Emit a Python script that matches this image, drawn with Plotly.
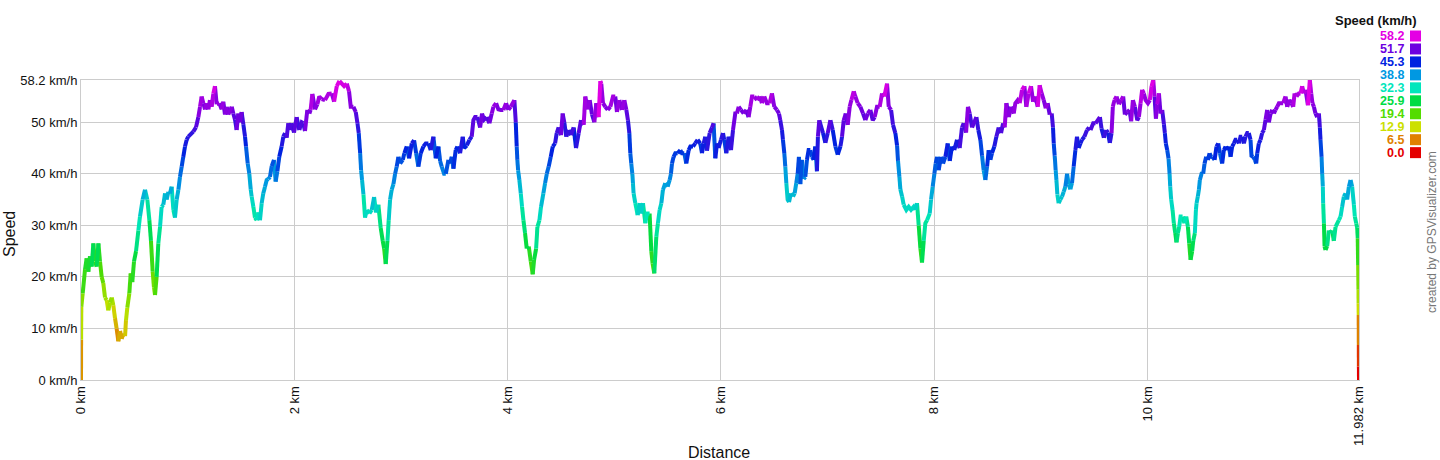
import plotly.graph_objects as go

# ---------------- data ----------------
distance_km = [
    0.000, 0.001, 0.003, 0.016, 0.038, 0.053, 0.069, 0.084, 0.100, 0.116, 0.131, 0.147, 0.163, 0.178,
    0.194, 0.209, 0.225, 0.241, 0.256, 0.272, 0.288, 0.303, 0.319, 0.334, 0.350, 0.366, 0.381, 0.397,
    0.413, 0.422, 0.434, 0.453, 0.466, 0.481, 0.497, 0.516, 0.538, 0.553, 0.578, 0.600, 0.622, 0.641,
    0.656, 0.672, 0.684, 0.694, 0.709, 0.725, 0.741, 0.756, 0.772, 0.788, 0.803, 0.819, 0.834, 0.850,
    0.866, 0.881, 0.897, 0.913, 0.928, 0.944, 0.959, 0.975, 0.991, 1.006, 1.038, 1.053, 1.078, 1.100,
    1.116, 1.131, 1.147, 1.163, 1.178, 1.194, 1.209, 1.225, 1.241, 1.256, 1.272, 1.297, 1.319, 1.334,
    1.350, 1.366, 1.381, 1.413, 1.428, 1.444, 1.459, 1.475, 1.491, 1.506, 1.522, 1.538, 1.547, 1.563,
    1.578, 1.591, 1.600, 1.616, 1.631, 1.647, 1.663, 1.678, 1.694, 1.709, 1.725, 1.741, 1.756, 1.772,
    1.788, 1.809, 1.825, 1.841, 1.859, 1.881, 1.897, 1.913, 1.928, 1.944, 1.959, 1.975, 1.997, 2.022,
    2.047, 2.069, 2.084, 2.100, 2.122, 2.141, 2.153, 2.169, 2.194, 2.216, 2.234, 2.256, 2.288,
    2.320, 2.351, 2.373, 2.398, 2.423, 2.445, 2.467, 2.492, 2.513, 2.529, 2.554, 2.576, 2.592, 2.604,
    2.617, 2.626, 2.635, 2.648, 2.663, 2.679, 2.704, 2.726, 2.748, 2.766, 2.788, 2.810, 2.829, 2.842,
    2.857, 2.873, 2.885, 2.898, 2.913, 2.929, 2.945, 2.960, 2.976, 2.992, 3.017, 3.032, 3.054, 3.076,
    3.101, 3.123, 3.142, 3.163, 3.185, 3.210, 3.232, 3.257, 3.279, 3.304, 3.326, 3.351, 3.367, 3.382,
    3.404, 3.420, 3.445, 3.460, 3.476, 3.492, 3.513, 3.529, 3.554, 3.579, 3.592, 3.617, 3.642, 3.663,
    3.679, 3.695, 3.717, 3.742, 3.760, 3.779, 3.804, 3.829, 3.851, 3.867, 3.892, 3.913, 3.935, 3.960,
    3.985, 4.007, 4.029, 4.048, 4.063, 4.076, 4.085, 4.091, 4.098, 4.110, 4.123, 4.135, 4.148, 4.163,
    4.179, 4.198, 4.217, 4.235, 4.248, 4.267, 4.279, 4.298, 4.313, 4.335, 4.351, 4.367, 4.385, 4.404,
    4.423, 4.445, 4.460,
    4.478, 4.500, 4.516, 4.531, 4.550, 4.572, 4.594, 4.619, 4.641, 4.666, 4.688, 4.713, 4.728, 4.750,
    4.769, 4.791, 4.813, 4.831, 4.853, 4.869, 4.878, 4.894, 4.916, 4.938, 4.963, 4.988, 5.009, 5.025,
    5.047, 5.072, 5.094, 5.113, 5.128, 5.141, 5.150, 5.159, 5.169, 5.175, 5.181, 5.197, 5.219, 5.238,
    5.250, 5.269, 5.291, 5.306, 5.331, 5.347, 5.359, 5.375, 5.394, 5.409, 5.425, 5.441, 5.456, 5.478,
    5.500, 5.519, 5.531, 5.541, 5.556, 5.572, 5.594, 5.619, 5.634, 5.656, 5.675, 5.697, 5.713, 5.738,
    5.759, 5.781, 5.806, 5.822, 5.838, 5.853, 5.869, 5.894, 5.916, 5.931, 5.947, 5.963, 5.978, 6.000,
    6.019, 6.031, 6.050, 6.072, 6.094, 6.113, 6.134, 6.150, 6.166, 6.188, 6.213, 6.238, 6.259, 6.275,
    6.291, 6.313, 6.338, 6.363, 6.384, 6.406, 6.431, 6.456, 6.478, 6.500, 6.525, 6.544, 6.556, 6.572,
    6.581, 6.594, 6.603, 6.613, 6.625, 6.638, 6.656, 6.675, 6.691, 6.706, 6.719, 6.731, 6.744, 6.759,
    6.775, 6.791, 6.806, 6.822, 6.838, 6.853, 6.869, 6.884, 6.900, 6.909, 6.922,
    6.957, 6.979, 7.001, 7.026, 7.048, 7.073, 7.095, 7.120, 7.135, 7.151, 7.170, 7.188, 7.207, 7.223,
    7.245, 7.260, 7.282, 7.307, 7.332, 7.354, 7.376, 7.401, 7.423, 7.441, 7.463, 7.488, 7.510, 7.532,
    7.557, 7.573, 7.595, 7.613, 7.635, 7.651, 7.660, 7.673, 7.682, 7.698, 7.713, 7.738, 7.760, 7.782,
    7.807, 7.823, 7.838, 7.854, 7.870, 7.885, 7.901, 7.916, 7.932, 7.957, 7.970, 7.985, 8.001, 8.013,
    8.026, 8.041, 8.063, 8.082, 8.104, 8.126, 8.145, 8.166, 8.188, 8.213, 8.238, 8.260, 8.276, 8.298,
    8.316, 8.332, 8.354, 8.376, 8.395, 8.413, 8.432, 8.448, 8.463, 8.479, 8.495, 8.510, 8.526, 8.541,
    8.563, 8.582, 8.604, 8.626, 8.645, 8.660, 8.676, 8.698, 8.720, 8.745, 8.760, 8.782, 8.801, 8.823,
    8.845, 8.863, 8.885, 8.907, 8.926, 8.948, 8.970, 8.988, 9.007, 9.026, 9.045, 9.063, 9.082, 9.101,
    9.113, 9.120, 9.129, 9.138, 9.145, 9.154, 9.166, 9.182, 9.198, 9.213, 9.229, 9.245, 9.260, 9.276,
    9.291, 9.307, 9.323, 9.338, 9.354, 9.370, 9.385, 9.407, 9.432, 9.451,
    9.465, 9.490, 9.512, 9.534, 9.553, 9.568, 9.590, 9.612, 9.628, 9.646, 9.662, 9.674, 9.690, 9.709,
    9.731, 9.753, 9.771, 9.787, 9.809, 9.831, 9.846, 9.862, 9.881, 9.903, 9.918, 9.934, 9.949, 9.965,
    9.981, 10.003, 10.021, 10.037, 10.053, 10.065, 10.078, 10.090, 10.106, 10.121, 10.137, 10.153,
    10.162, 10.171, 10.184, 10.196, 10.206, 10.212, 10.221, 10.234, 10.246, 10.259, 10.271, 10.284,
    10.296, 10.309, 10.328, 10.346, 10.362, 10.378, 10.390, 10.403, 10.418, 10.428, 10.443, 10.453,
    10.459, 10.471, 10.481, 10.490, 10.506, 10.521, 10.534, 10.549, 10.565, 10.581, 10.596, 10.609,
    10.628, 10.646, 10.662, 10.678, 10.699, 10.715, 10.731, 10.746, 10.762, 10.778, 10.793, 10.809,
    10.824, 10.840, 10.856, 10.871, 10.887, 10.903, 10.918, 10.934, 10.949, 10.965, 10.974, 10.990,
    11.006, 11.018, 11.028, 11.043, 11.059, 11.074, 11.090, 11.106, 11.121, 11.137, 11.153, 11.168,
    11.184, 11.199, 11.215, 11.231, 11.253, 11.271, 11.293, 11.309, 11.331, 11.349, 11.365, 11.378,
    11.396, 11.418, 11.434, 11.449, 11.465, 11.481, 11.503, 11.521, 11.534, 11.546, 11.559, 11.574,
    11.590, 11.606, 11.615, 11.621, 11.631, 11.637, 11.643, 11.646, 11.653, 11.659, 11.668, 11.684,
    11.699, 11.715, 11.731, 11.746, 11.762, 11.778, 11.793, 11.809, 11.824, 11.840, 11.856, 11.871,
    11.887, 11.903, 11.918, 11.934, 11.943, 11.956, 11.965, 11.970, 11.974, 11.977, 11.978, 11.979,
    11.980, 11.981, 11.982,
]

speed_kmh = [
    0.0, 7.8, 14.2, 16.8, 21.5, 23.6, 21.0, 24.0, 22.0, 26.5, 23.0, 22.0, 26.5, 23.0,
    20.0, 18.8, 16.0, 15.5, 13.5, 15.0, 16.0, 14.5, 12.0, 10.0, 7.5, 9.5, 8.0, 9.0,
    8.5, 11.6, 14.0, 16.8, 20.7, 19.0, 23.0, 25.0, 29.0, 31.7, 35.0, 36.9, 35.0, 31.0,
    27.0, 21.0, 18.0, 16.5, 20.0, 26.5, 29.7, 33.6, 34.0, 36.2, 35.0, 36.5, 36.2, 37.5,
    33.0, 31.5, 35.0, 36.9, 39.4, 41.4, 43.3, 45.3, 46.6, 47.2, 47.9, 48.2, 49.0, 51.0,
    53.0, 55.0, 53.7, 52.5, 53.7, 52.5, 54.3, 53.0, 55.6, 57.0, 53.5, 53.7, 52.5, 54.0,
    51.5, 53.0, 51.5, 53.0, 51.7, 50.5, 48.5, 51.7, 50.0, 52.0, 49.6, 47.2, 45.3, 42.0,
    40.0, 37.0, 35.6, 33.6, 31.5, 31.0, 32.5, 31.0, 34.3, 36.2, 37.5, 38.8, 39.0, 39.4,
    41.5, 42.7, 38.5, 40.5, 43.3, 45.3, 47.2, 47.9, 47.0, 49.8, 48.5, 49.8, 48.0, 51.0,
    48.5, 50.0, 49.8, 48.3, 52.4, 51.7, 52.4, 55.5, 52.5, 53.5, 55.0, 54.5, 54.3,
    55.5, 55.6, 54.0, 57.0, 58.0, 57.5, 57.0, 57.5, 56.0, 53.0, 53.0, 52.0, 49.8, 47.9,
    44.0, 40.7, 38.8, 36.0, 31.5, 33.0, 32.3, 33.0, 35.5, 32.5, 34.0, 29.5, 27.0, 25.5,
    22.5, 27.0, 31.0, 35.0, 36.9, 38.0, 40.0, 41.4, 43.3, 42.0, 42.7, 44.0, 45.3, 43.0,
    45.9, 46.5, 44.0, 41.4, 44.0, 45.3, 45.9, 45.9, 44.6, 47.2, 43.0, 45.3, 42.5, 41.4,
    40.0, 40.0, 42.7, 42.0, 43.3, 41.0, 44.6, 45.3, 44.0, 47.2, 45.0, 45.5, 46.6, 47.2,
    50.4, 51.0, 51.0, 49.0, 51.7, 50.5, 51.0, 49.8, 51.7, 53.0, 53.7, 52.5, 52.4, 52.4,
    53.7, 52.4, 53.0, 53.7, 54.3, 50.0, 45.3, 42.7, 40.7, 38.8, 36.2, 33.6, 31.0, 28.5,
    25.5, 25.9, 23.0, 20.5, 23.3, 25.5, 29.7, 31.0, 33.6, 36.2, 38.2, 40.0, 41.4, 43.3,
    45.3, 45.9, 47.9,
    49.0, 47.5, 51.7, 50.0, 47.2, 48.5, 47.5, 49.0, 45.0, 47.9, 50.4, 49.5, 55.0, 52.5,
    54.3, 51.5, 50.0, 53.7, 51.0, 58.0, 57.5, 53.7, 53.0, 52.4, 53.0, 55.0, 55.0, 52.0,
    54.3, 52.4, 54.3, 52.4, 50.4, 47.9, 44.0, 42.0, 40.0, 38.2, 36.2, 34.3, 32.0, 34.3,
    32.3, 34.3, 30.4, 32.3, 32.3, 25.0, 22.6, 20.7, 27.8, 30.4, 33.0, 34.3, 36.9, 38.2,
    37.5, 38.8, 40.0, 42.0, 43.3, 44.0, 44.0, 44.6, 44.0, 44.0, 42.0, 44.6, 45.3, 45.3,
    45.9, 46.6, 45.9, 44.0, 45.9, 47.2, 44.5, 47.9, 49.0, 49.8, 43.0, 45.9, 45.0, 46.6,
    47.9, 46.6, 44.0, 47.2, 44.6, 48.5, 51.7, 51.7, 53.0, 52.4, 51.7, 52.4, 51.0, 53.0,
    55.0, 55.0, 54.3, 55.0, 53.7, 55.0, 53.7, 53.7, 55.6, 53.0, 52.4, 51.7, 50.4, 48.5,
    46.6, 44.0, 41.4, 38.2, 35.0, 34.5, 36.2, 35.6, 36.2, 38.2, 40.0, 43.3, 38.0, 42.7,
    39.0, 39.4, 42.7, 44.6, 44.6, 43.3, 42.7, 45.3, 40.5, 47.2, 50.4,
    47.9, 46.0, 47.9, 50.4, 48.5, 45.3, 43.7, 45.3, 47.2, 50.4, 51.7, 49.5, 53.0, 54.3,
    56.0, 55.0, 53.7, 53.0, 51.7, 50.4, 51.7, 52.4, 50.4, 51.0, 53.0, 53.0, 55.6, 55.0,
    57.5, 53.0, 52.4, 49.5, 47.9, 45.5, 42.5, 39.4, 37.0, 35.6, 34.0, 33.0, 33.6, 33.0,
    33.6, 33.0, 34.3, 30.0, 25.5, 22.8, 27.0, 30.4, 31.0, 32.3, 35.0, 37.5, 40.0, 42.0,
    43.3, 40.7, 43.3, 42.0, 43.3, 45.9, 42.5, 45.3, 44.6, 46.6, 45.0, 49.0, 49.8, 48.0,
    53.0, 51.7, 49.0, 50.4, 51.0, 48.5, 46.6, 43.5, 40.7, 38.8, 41.4, 44.6, 42.7, 44.0,
    45.3, 47.2, 49.0, 47.9, 49.8, 49.0, 53.7, 51.0, 53.0, 51.7, 53.7, 54.3, 53.7, 56.3,
    57.0, 53.0, 55.6, 57.0, 54.0, 55.0, 53.0, 57.2, 55.6, 54.3, 52.7, 53.7, 51.5, 51.7,
    49.0, 45.9, 43.5, 40.7, 38.8, 36.0, 34.3, 35.0, 35.6, 36.5, 37.5, 40.0, 38.0, 37.0,
    38.2, 41.4, 44.6, 47.2, 45.0, 45.9, 46.6, 47.2, 48.5, 49.0,
    48.5, 49.8, 49.8, 50.4, 51.0, 48.8, 47.0, 48.5, 48.0, 46.0, 47.9, 53.0, 54.3, 55.0,
    53.5, 54.3, 55.0, 51.5, 52.0, 52.4, 50.2, 54.3, 53.0, 50.4, 51.0, 53.7, 56.3, 55.6,
    54.3, 53.7, 54.3, 57.0, 58.2, 55.0, 50.7, 53.5, 55.6, 51.7, 52.4, 49.6,
    47.9, 45.9, 44.6, 43.0, 40.0, 37.5, 35.0, 33.0, 30.4, 28.5, 26.7, 28.5,
    29.7, 31.7, 31.7, 30.4, 31.7, 29.7, 26.5, 23.3, 25.0, 27.0, 28.5, 33.0,
    34.3, 35.6, 36.9, 38.8, 40.0, 40.0, 42.0, 43.3, 42.7, 44.0, 43.3, 43.3,
    42.7, 45.3, 45.9, 44.0, 42.0, 44.6, 45.3, 44.6, 45.3, 43.3, 45.3, 45.9,
    46.6, 46.6, 45.9, 47.2, 47.2, 45.9, 47.2, 47.9, 47.9, 46.6, 43.5, 43.3,
    42.7, 42.0, 44.0, 45.9, 46.6, 47.9, 48.5, 50.5, 52.4, 50.0, 51.7, 52.4,
    51.7, 52.4, 53.0, 53.7, 53.7, 53.7, 55.0, 53.0, 54.3, 53.7, 53.0, 55.6,
    55.0, 55.6, 55.6, 57.0, 55.6, 56.3, 53.3, 58.2, 55.6, 53.7, 53.0, 51.7,
    51.0, 51.7, 49.0, 46.6, 43.3, 40.0, 37.5, 34.3, 30.4, 25.9, 25.2, 26.0,
    29.0, 28.5, 29.0, 27.0, 29.7, 30.4, 31.0, 31.7, 33.6, 35.6, 36.2, 35.0,
    37.5, 38.8, 37.5, 34.0, 31.7, 30.4, 29.5, 27.5, 22.3, 17.5, 14.9, 12.6,
    6.8, 2.6, 0.0,
]

legend_values = [58.2, 51.7, 45.3, 38.8, 32.3, 25.9, 19.4, 12.9, 6.5, 0.0]
legend_colors = ["#e400e4", "#6c00e0", "#0022e0", "#0098e2", "#00e6bc",
                 "#00dc44", "#54dc00", "#cce000", "#e08000", "#e40000"]

y_tick_values = [0, 10, 20, 30, 40, 50, 58.2]
y_tick_labels = ["0 km/h", "10 km/h", "20 km/h", "30 km/h", "40 km/h", "50 km/h", "58.2 km/h"]
x_tick_values = [0, 2, 4, 6, 8, 10, 11.982]
x_tick_labels = ["0 km", "2 km", "4 km", "6 km", "8 km", "10 km", "11.982 km"]

# ---------------- helpers ----------------
FONT = "Liberation Sans, Arial, Helvetica, sans-serif"
W, H = 1440, 460
PL, PR, PT, PB = 81, 1359, 80, 380  # plot area in pixels


def pxx(px):
    return (px - PL) / (PR - PL)


def pxy(py):
    return (PB - py) / (PB - PT)


def hex_rgb(h):
    h = h.lstrip("#")
    return tuple(int(h[i:i + 2], 16) for i in (0, 2, 4))


stops = sorted(zip(legend_values, [hex_rgb(c) for c in legend_colors]))


def color_at(v):
    v = max(stops[0][0], min(stops[-1][0], v))
    for (v0, c0), (v1, c1) in zip(stops, stops[1:]):
        if v <= v1:
            t = 0 if v1 == v0 else (v - v0) / (v1 - v0)
            c = [round(a + (b - a) * t) for a, b in zip(c0, c1)]
            return "rgb(%d,%d,%d)" % tuple(c)
    return "rgb(%d,%d,%d)" % stops[-1][1]


# group consecutive segments into colour runs (segment coloured by its end value)
groups = {}
cur_key, cur_x, cur_y = None, [], []
for i in range(1, len(distance_km)):
    key = int(round(speed_kmh[i] * 1.5))
    if key != cur_key:
        if cur_key is not None:
            groups.setdefault(cur_key, []).append((cur_x, cur_y))
        cur_key = key
        cur_x = [distance_km[i - 1]]
        cur_y = [speed_kmh[i - 1]]
    cur_x.append(distance_km[i])
    cur_y.append(speed_kmh[i])
groups.setdefault(cur_key, []).append((cur_x, cur_y))

fig = go.Figure()
for key in sorted(groups):
    xs, ys = [], []
    for rx, ry in groups[key]:
        xs += rx + [None]
        ys += ry + [None]
    fig.add_trace(go.Scatter(
        x=xs, y=ys, mode="lines",
        line=dict(color=color_at(key / 1.5), width=4),
        hoverinfo="skip", showlegend=False,
    ))

annotations = []
shapes = []

# axis titles
annotations.append(dict(text="Speed", x=pxx(9), y=pxy(234), xref="paper", yref="paper",
                        textangle=-90, showarrow=False, xanchor="center", yanchor="middle",
                        font=dict(family=FONT, size=16, color="#111")))
annotations.append(dict(text="Distance", x=pxx(719), y=pxy(452), xref="paper", yref="paper",
                        showarrow=False, xanchor="center", yanchor="middle",
                        font=dict(family=FONT, size=16, color="#111")))
# credit
annotations.append(dict(text="created by GPSVisualizer.com", x=pxx(1432), y=pxy(232),
                        xref="paper", yref="paper", textangle=-90, showarrow=False,
                        xanchor="center", yanchor="middle",
                        font=dict(family=FONT, size=12, color="#777")))
# colour legend
annotations.append(dict(text="<b>Speed (km/h)</b>", x=pxx(1376), y=pxy(21),
                        xref="paper", yref="paper", showarrow=False,
                        xanchor="center", yanchor="middle",
                        font=dict(family=FONT, size=13, color="#111")))
for k, (val, col) in enumerate(zip(legend_values, legend_colors)):
    cy = 36 + k * 12.96
    annotations.append(dict(text="<b>%.1f</b>" % val, x=pxx(1406), y=pxy(cy), xref="paper", yref="paper",
                            showarrow=False, xanchor="right", yanchor="middle",
                            font=dict(family=FONT, size=12.5, color=col)))
    shapes.append(dict(type="rect", xref="paper", yref="paper",
                       x0=pxx(1410), x1=pxx(1421), y0=pxy(cy - 5.5), y1=pxy(cy + 5.5),
                       fillcolor=col, line=dict(width=0)))

fig.update_layout(
    width=W, height=H,
    margin=dict(l=PL, r=W - PR, t=PT, b=H - PB, autoexpand=False),
    paper_bgcolor="white", plot_bgcolor="white",
    font=dict(family=FONT, size=12, color="#111"),
    annotations=annotations, shapes=shapes,
    showlegend=False,
    xaxis=dict(range=[0, 11.982], tickvals=x_tick_values, ticktext=x_tick_labels,
               tickangle=-90, showgrid=True, gridcolor="#cccccc", gridwidth=1,
               showline=True, linecolor="#cccccc", mirror=True, zeroline=False,
               ticks="", tickfont=dict(family=FONT, size=13, color="#111"), automargin=False),
    yaxis=dict(range=[0, 58.2], tickvals=y_tick_values, ticktext=y_tick_labels,
               showgrid=True, gridcolor="#cccccc", gridwidth=1,
               showline=True, linecolor="#cccccc", mirror=True, zeroline=False,
               ticks="", tickfont=dict(family=FONT, size=13, color="#111"), automargin=False),
)

fig.write_html("out.html", config={"displayModeBar": False},
               post_script="document.body.style.margin='0';document.body.style.padding='0';")
